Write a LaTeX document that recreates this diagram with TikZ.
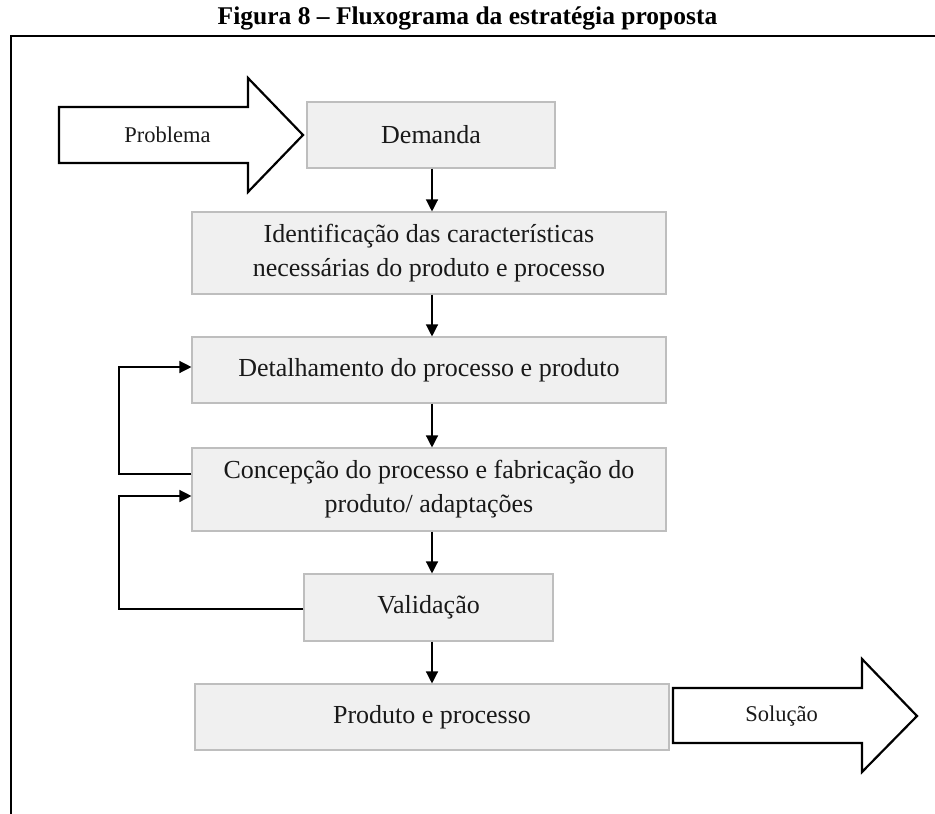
\documentclass[tikz,border=0pt]{standalone}
\usepackage{fontspec}
\setmainfont{Liberation Serif}
\usetikzlibrary{arrows.meta}

\definecolor{boxfill}{HTML}{F0F0F0}
\definecolor{boxline}{HTML}{BEBEBE}

\tikzset{
  stepbox/.style={draw=boxline, line width=1.1pt, fill=boxfill, inner sep=0pt,
    align=center, font=\fontsize{26}{34}\selectfont, text=black!90},
  conn/.style={line width=1.3pt, black},
  arr/.style={conn, -{Triangle[length=12pt,width=12pt]}},
  blockarrow/.style={line width=2.2pt, black, fill=white, line join=miter},
  arrowlabel/.style={font=\fontsize{22.5}{27}\selectfont, text=black!90}
}

\begin{document}
\begin{tikzpicture}[x=1pt, y=-1pt]
\useasboundingbox (0,0) rectangle (935,814);

% title and frame
\node[font=\fontsize{25.5}{30}\selectfont\bfseries] (title) at (467.5,18) {Figura 8 – Fluxograma da estratégia proposta};
\draw[line width=2.6pt] (11,820) -- (11,36) -- (940,36);

% process steps
\node[stepbox, minimum width=248pt, minimum height=66pt] (demanda) at (431,135) {Demanda};
\node[stepbox, minimum width=474pt, minimum height=82pt] (ident) at (429,253)
  {Identificação das características\\necessárias do produto e processo};
\node[stepbox, minimum width=474pt, minimum height=66pt] (detal) at (429,370)
  {Detalhamento do processo e produto};
\node[stepbox, minimum width=474pt, minimum height=83pt] (concep) at (429,489.5)
  {Concepção do processo e fabricação do\\produto/ adaptações};
\node[stepbox, minimum width=249pt, minimum height=67pt] (valid) at (428.5,607.5) {Validação};
\node[stepbox, minimum width=474pt, minimum height=66pt] (produto) at (432,717) {Produto e processo};

% input and output block arrows
\draw[blockarrow] (59,107) -- (248,107) -- (248,78) -- (303,135) -- (248,192) -- (248,163) -- (59,163) -- cycle;
\node[arrowlabel] (problema) at (167.5,135) {Problema};
\draw[blockarrow] (673,688) -- (862,688) -- (862,659) -- (917,716) -- (862,772) -- (862,743) -- (673,743) -- cycle;
\node[arrowlabel] (solucao) at (781.5,716) {Solução};

% main flow
\coordinate (fx) at (432,0);
\draw[arr] (demanda.south -| fx) -- (ident.north -| fx);
\draw[arr] (ident.south -| fx) -- (detal.north -| fx);
\draw[arr] (detal.south -| fx) -- (concep.north -| fx);
\draw[arr] (concep.south -| fx) -- (valid.north -| fx);
\draw[arr] (valid.south -| fx) -- (produto.north -| fx);

% feedback loops
\coordinate (lx) at (119,0);
\coordinate (out1) at ([yshift=15.5pt]concep.west);
\coordinate (in1) at ([yshift=3pt]detal.west);
\coordinate (out2) at ([yshift=-1.5pt]valid.west);
\coordinate (in2) at ([yshift=-6.5pt]concep.west);
\draw[arr] (out1) -- (out1 -| lx) -- (in1 -| lx) -- (in1);
\draw[arr] (out2) -- (out2 -| lx) -- (in2 -| lx) -- (in2);
\end{tikzpicture}
\end{document}
